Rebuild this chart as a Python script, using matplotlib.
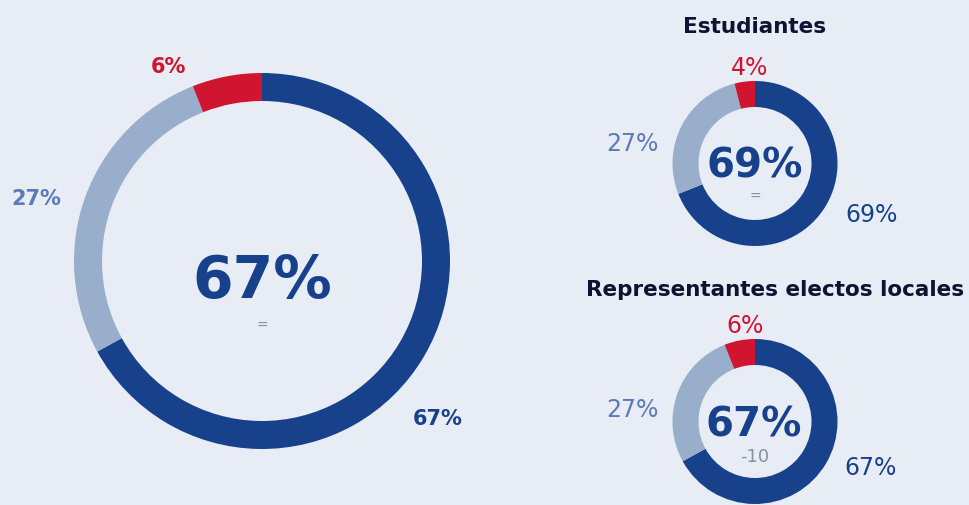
import numpy as np
import matplotlib.pyplot as plt

# shares per group: blue (yes), light (other), red (no)
groups = ["", "Estudiantes", "Representantes electos locales"]
blue_vals = [67, 69, 67]
light_vals = [27, 27, 27]
red_vals = [6, 4, 6]
changes = ["=", "=", "-10"]

BG = '#e8ecf5'
DARK = '#17428b'
LIGHT = '#98aecb'
RED = '#cf1530'
LIGHT_TXT = '#5b7bb6'
GREY = '#8a8f99'
TITLE = '#0d1330'

W, H = 970, 506
fig = plt.figure(figsize=(W / 100, H / 100), dpi=100, facecolor=BG)
ax = fig.add_axes([0, 0, 1, 1])
ax.set_facecolor(BG)

# layout of each donut in pixel coords (x, y from top, outer radius, ring width)
layout = [(262, 262, 188, 28), (755, 164.5, 82.5, 26), (755, 422.5, 82.5, 26)]

for i in range(3):
    cx, cy, r, w = layout[i]
    vals = [blue_vals[i], light_vals[i], red_vals[i]]
    ax.pie(vals, colors=[DARK, LIGHT, RED], startangle=90, counterclock=False,
           center=(cx, H - cy), radius=r, wedgeprops=dict(width=w, linewidth=0))

ax.set_xlim(0, W)
ax.set_ylim(0, H)
ax.set_aspect('equal')
ax.axis('off')

def txt(x, y, s, **kw):
    ax.text(x, H - y, s, ha='center', family='DejaVu Sans', **kw)

# big donut
txt(262, 298, f"{blue_vals[0]}%", fontsize=42, fontweight='bold', color=DARK, va='baseline')
txt(262, 326, changes[0], fontsize=10, color=GREY, va='center')
txt(168, 73, f"{red_vals[0]}%", fontsize=15, fontweight='bold', color=RED, va='baseline')
txt(36, 205, f"{light_vals[0]}%", fontsize=15, fontweight='bold', color=LIGHT_TXT, va='baseline')
txt(438, 425, f"{blue_vals[0]}%", fontsize=15, fontweight='bold', color=DARK, va='baseline')

# small donuts
small = [
    dict(title=(755, 33), red=(750, 75), light=(632, 151), blue=(872, 222), center=(755, 177), chg=(755, 197)),
    dict(title=(775, 296), red=(745, 333), light=(632, 417), blue=(871, 475), center=(754, 437), chg=(755, 457)),
]
for k, p in enumerate(small):
    i = k + 1
    txt(*p['title'], groups[i], fontsize=15.5, fontweight='bold', color=TITLE, va='baseline')
    txt(*p['red'], f"{red_vals[i]}%", fontsize=17, color=RED, va='baseline')
    txt(*p['light'], f"{light_vals[i]}%", fontsize=17, color=LIGHT_TXT, va='baseline')
    txt(*p['blue'], f"{blue_vals[i]}%", fontsize=17, color=DARK, va='baseline')
    txt(*p['center'], f"{blue_vals[i]}%", fontsize=29, fontweight='bold', color=DARK, va='baseline')
    if changes[i] == "=":
        txt(*p['chg'], changes[i], fontsize=10, color=GREY, va='center')
    else:
        txt(*p['chg'], changes[i], fontsize=13, color=GREY, va='center')

fig.savefig('out.png', dpi=100, facecolor=BG)
